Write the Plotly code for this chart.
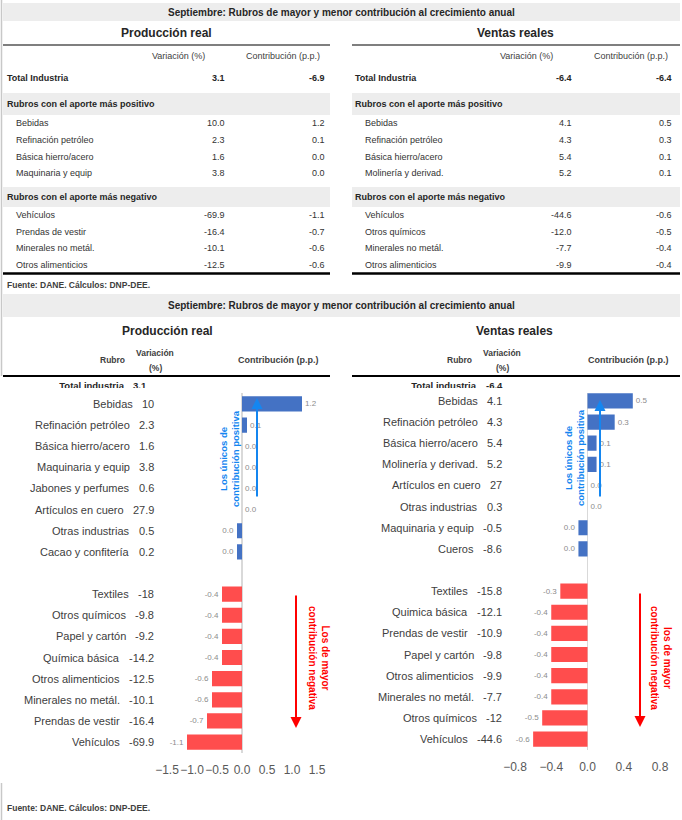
import plotly.graph_objects as go

W, H = 682, 820
FONT = "Liberation Sans"

# ---------------- DATA: top tables ----------------
title_text = "Septiembre: Rubros de mayor y menor contribución al crecimiento anual"
table_titles = ["Producción real", "Ventas reales"]
col_headers = ["Variación (%)", "Contribución (p.p.)"]

prod_total = [3.1, -6.9]
prod_pos_names = ["Bebidas", "Refinación petróleo", "Básica hierro/acero", "Maquinaria y equip"]
prod_pos_var = [10.0, 2.3, 1.6, 3.8]
prod_pos_con = [1.2, 0.1, 0.0, 0.0]
prod_neg_names = ["Vehículos", "Prendas de vestir", "Minerales no metál.", "Otros alimenticios"]
prod_neg_var = [-69.9, -16.4, -10.1, -12.5]
prod_neg_con = [-1.1, -0.7, -0.6, -0.6]

vent_total = [-6.4, -6.4]
vent_pos_names = ["Bebidas", "Refinación petróleo", "Básica hierro/acero", "Molinería y derivad."]
vent_pos_var = [4.1, 4.3, 5.4, 5.2]
vent_pos_con = [0.5, 0.3, 0.1, 0.1]
vent_neg_names = ["Vehículos", "Otros químicos", "Minerales no metál.", "Otros alimenticios"]
vent_neg_var = [-44.6, -12.0, -7.7, -9.9]
vent_neg_con = [-0.6, -0.5, -0.4, -0.4]

# ---------------- DATA: lower charts ----------------
cp_pos_names = ["Bebidas", "Refinación petróleo", "Básica hierro/acero", "Maquinaria y equip",
                "Jabones y perfumes", "Artículos en cuero", "Otras industrias", "Cacao y confitería"]
cp_pos_var = [10, 2.3, 1.6, 3.8, 0.6, 27.9, 0.5, 0.2]
cp_pos_con = [1.2, 0.1, 0.0, 0.0, 0.0, 0.0, -0.1, -0.1]
cp_pos_lbl = ["1.2", "0.1", "0.0", "0.0", "0.0", "0.0", "0.0", "0.0"]
cp_neg_names = ["Textiles", "Otros químicos", "Papel y cartón", "Química básica",
                "Otros alimenticios", "Minerales no metál.", "Prendas de vestir", "Vehículos"]
cp_neg_var = [-18, -9.8, -9.2, -14.2, -12.5, -10.1, -16.4, -69.9]
cp_neg_con = [-0.4, -0.4, -0.4, -0.4, -0.6, -0.6, -0.7, -1.1]

cv_pos_names = ["Bebidas", "Refinación petróleo", "Básica hierro/acero", "Molinería y derivad.",
                "Artículos en cuero", "Otras industrias", "Maquinaria y equip", "Cueros"]
cv_pos_var = [4.1, 4.3, 5.4, 5.2, 27, 0.3, -0.5, -8.6]
cv_pos_con = [0.5, 0.3, 0.1, 0.1, 0.0, 0.0, -0.1, -0.1]
cv_pos_lbl = ["0.5", "0.3", "0.1", "0.1", "0.0", "0.0", "0.0", "0.0"]
cv_neg_names = ["Textiles", "Quimica básica", "Prendas de vestir", "Papel y cartón",
                "Otros alimenticios", "Minerales no metál.", "Otros químicos", "Vehículos"]
cv_neg_var = [-15.8, -12.1, -10.9, -9.8, -9.9, -7.7, -12, -44.6]
cv_neg_con = [-0.3, -0.4, -0.4, -0.4, -0.4, -0.4, -0.5, -0.6]

left_ticks = [-1.5, -1.0, -0.5, 0.0, 0.5, 1.0, 1.5]
right_ticks = [-0.8, -0.4, 0.0, 0.4, 0.8]

BLUE = "#4472C4"
RED = "#FF4D4D"
ARROW_BLUE = "#1486F0"
TXT = "#262626"
BAND = "#EDEDED"

# ---------------- helpers ----------------
anns = []
shapes = []


def ann(x, y, text, size=9, color=TXT, bold=False, xanchor="left", yanchor="middle", **kw):
    d = dict(x=x / W, y=1 - y / H, xref="paper", yref="paper",
             text=f"<b>{text}</b>" if bold else text, showarrow=False,
             xanchor=xanchor, yanchor=yanchor,
             font=dict(family=FONT, size=size, color=color))
    d.update(kw)
    anns.append(d)


def rect(x0, y0, x1, y1, fill, layer="below"):
    shapes.append(dict(type="rect", xref="paper", yref="paper", x0=x0 / W, x1=x1 / W,
                       y0=1 - y0 / H, y1=1 - y1 / H, fillcolor=fill, line=dict(width=0),
                       layer=layer))


def line(x0, y0, x1, y1, color="#000000", width=1):
    shapes.append(dict(type="line", xref="paper", yref="paper", x0=x0 / W, x1=x1 / W,
                       y0=1 - y0 / H, y1=1 - y1 / H, line=dict(color=color, width=width)))


f1 = lambda v: f"{v:.1f}"

# approx. Arial glyph widths (em) to keep names clear of the value column
CW = {"-": 0.333, ".": 0.278}


def text_w(s, size):
    return sum(CW.get(ch, 0.556) for ch in s) * size


# ---------------- top tables ----------------
rect(3, 3, 680, 21, BAND)
ann(341, 12, title_text, size=10, bold=True, xanchor="center")
line(1.5, 0, 1.5, 376, "#C8C8C8", 1.5)
line(1.5, 783, 1.5, 820, "#C8C8C8", 1.5)

tables = [
    dict(x0=3, x1=330, lab=5, ind=14, vr=227, cr=327, tc=166,
         hv=207, hc=322, title=table_titles[0], total=prod_total,
         pn=prod_pos_names, pv=prod_pos_var, pc=prod_pos_con,
         nn=prod_neg_names, nv=prod_neg_var, nc=prod_neg_con),
    dict(x0=352, x1=680, lab=353, ind=363, vr=574, cr=674, tc=515,
         hv=555, hc=670, title=table_titles[1], total=vent_total,
         pn=vent_pos_names, pv=vent_pos_var, pc=vent_pos_con,
         nn=vent_neg_names, nv=vent_neg_var, nc=vent_neg_con),
]
row_pos_y = [123, 140, 157, 173]
row_neg_y = [215, 232, 248, 265]
for t in tables:
    ann(t["tc"], 33, t["title"], size=12, bold=True, xanchor="center")
    line(t["x0"], 45, t["x1"], 45, "#000000", 1.2)
    ann(t["hv"], 56, col_headers[0], size=9, xanchor="right", color="#404040")
    ann(t["hc"], 56, col_headers[1], size=9, xanchor="right", color="#404040")
    ann(t["lab"], 78, "Total Industria", size=9, bold=True)
    ann(t["vr"], 78, f1(t["total"][0]), size=9, bold=True, xanchor="right")
    ann(t["cr"], 78, f1(t["total"][1]), size=9, bold=True, xanchor="right")
    rect(t["x0"], 93, t["x1"], 115, BAND)
    ann(t["lab"], 104, "Rubros con el aporte más positivo", size=9, bold=True)
    for yy, n, v, c in zip(row_pos_y, t["pn"], t["pv"], t["pc"]):
        ann(t["ind"], yy, n, size=9, color="#333333")
        ann(t["vr"], yy, f1(v), size=9, xanchor="right", color="#333333")
        ann(t["cr"], yy, f1(c), size=9, xanchor="right", color="#333333")
    rect(t["x0"], 187, t["x1"], 207, BAND)
    ann(t["lab"], 197, "Rubros con el aporte más negativo", size=9, bold=True)
    for yy, n, v, c in zip(row_neg_y, t["nn"], t["nv"], t["nc"]):
        ann(t["ind"], yy, n, size=9, color="#333333")
        ann(t["vr"], yy, f1(v), size=9, xanchor="right", color="#333333")
        ann(t["cr"], yy, f1(c), size=9, xanchor="right", color="#333333")
    line(t["x0"], 273.5, t["x1"], 273.5, "#000000", 2.5)

ann(5, 285, "Fuente: DANE. Cálculos: DNP-DEE.", size=8.5, bold=True, color="#404040")

# ---------------- lower section header ----------------
rect(3, 294, 680, 317, BAND)
ann(341, 305, title_text, size=10, bold=True, xanchor="center")
heads = [dict(tc=167, rub=127, var=155, con=278, x0=3, x1=330),
         dict(tc=514, rub=474, var=502, con=628, x0=352, x1=680)]
for h, ttl in zip(heads, table_titles):
    ann(h["tc"], 331, ttl, size=12, bold=True, xanchor="center")
    ann(h["rub"], 360, "Rubro", size=8.5, bold=True, xanchor="right", color="#404040")
    ann(h["var"], 353, "Variación", size=8.5, bold=True, xanchor="center", color="#404040")
    ann(h["var"], 368, "(%)", size=8.5, bold=True, xanchor="center", color="#404040")
    ann(h["con"], 360, "Contribución (p.p.)", size=9, bold=True, xanchor="center", color="#404040")
    line(h["x0"], 376, h["x1"], 376, "#000000", 2)

ann(5, 808, "Fuente: DANE. Cálculos: DNP-DEE.", size=8.5, bold=True, color="#404040")

# ---------------- bar charts ----------------
fig = go.Figure()
LBL = 11


def add_chart(xa, ya, pos_names, pos_var, pos_con, pos_lbl, neg_names, neg_var, neg_con, val_x):
    ypos = list(range(len(pos_names)))
    yneg = [len(pos_names) + 1 + i for i in range(len(neg_names))]
    fig.add_trace(go.Bar(x=pos_con, y=ypos, orientation="h", marker=dict(color=BLUE, line=dict(width=0)),
                         text=pos_lbl, textposition="outside", cliponaxis=False,
                         textfont=dict(family=FONT, size=8, color="#8C8C8C"),
                         xaxis=xa, yaxis=ya, showlegend=False, hoverinfo="skip"))
    fig.add_trace(go.Bar(x=neg_con, y=yneg, orientation="h", marker=dict(color=RED, line=dict(width=0)),
                         text=[f1(v) for v in neg_con], textposition="outside", cliponaxis=False,
                         textfont=dict(family=FONT, size=8, color="#8C8C8C"),
                         xaxis=xa, yaxis=ya, showlegend=False, hoverinfo="skip"))
    for yy, n, v in zip(ypos + yneg, pos_names + neg_names, pos_var + neg_var):
        vs = f"{v:g}"
        name_x = val_x - text_w(vs, LBL) - 9
        anns.append(dict(x=name_x / W, xref="paper", y=yy, yref=ya, text=n, showarrow=False,
                         xanchor="right", yanchor="middle",
                         font=dict(family=FONT, size=LBL, color="#404040")))
        anns.append(dict(x=val_x / W, xref="paper", y=yy, yref=ya, text=vs, showarrow=False,
                         xanchor="right", yanchor="middle",
                         font=dict(family=FONT, size=LBL, color="#404040")))


add_chart("x", "y", cp_pos_names, cp_pos_var, cp_pos_con, cp_pos_lbl,
          cp_neg_names, cp_neg_var, cp_neg_con, 156)
add_chart("x2", "y2", cv_pos_names, cv_pos_var, cv_pos_con, cv_pos_lbl,
          cv_neg_names, cv_neg_var, cv_neg_con, 504)

# "Total industria" row, partially hidden below by a white band (as in the source)
fig.add_trace(go.Scatter(x=[124, 133, 476, 486], y=[13] * 4, mode="text",
                         text=["<b>Total industria</b>", f"<b>{prod_total[0]:g}</b>",
                               "<b>Total industria</b>", f"<b>{vent_total[0]:g}</b>"],
                         textposition=["middle left", "middle right", "middle left", "middle right"],
                         textfont=dict(family=FONT, size=9.5, color=TXT), cliponaxis=False,
                         xaxis="x3", yaxis="y3", showlegend=False, hoverinfo="skip"))
rect(3, 388, 680, 393, "white", layer="above")


# arrows and rotated notes
def arrow(xt, yt, xs, ys, color):
    anns.append(dict(x=xt / W, y=1 - yt / H, xref="paper", yref="paper", ax=xs - xt, ay=ys - yt,
                     text="", showarrow=True, arrowhead=2,
                     arrowsize=1.1, arrowwidth=2, arrowcolor=color, standoff=0, startstandoff=0))


arrow(257, 398, 257, 498, ARROW_BLUE)
arrow(600, 400, 600, 498, ARROW_BLUE)
arrow(296, 728, 296, 594, "#FF0000")
arrow(640, 727, 640, 592, "#FF0000")

ann(229, 459, "Los únicos de<br>contribución positiva", size=9.5, bold=True, color=ARROW_BLUE,
    xanchor="center", textangle=-90)
ann(574, 458, "Los únicos de<br>contribución positiva", size=9.5, bold=True, color=ARROW_BLUE,
    xanchor="center", textangle=-90)
ann(319, 658, "Los de mayor<br>contribución negativa", size=10, bold=True, color="#FF0000",
    xanchor="center", textangle=90)
ann(661, 658, "los de mayor<br>contribución negativa", size=10, bold=True, color="#FF0000",
    xanchor="center", textangle=90)

axis_common = dict(showgrid=False, zeroline=True, zerolinecolor="#D9D9D9", zerolinewidth=1.5,
                   showline=False, ticks="", tickformat=".1f", tickangle=0, automargin=False,
                   tickfont=dict(family=FONT, size=12, color="#595959"), ticklabelstandoff=8)
hidden = dict(visible=False, automargin=False)

fig.update_layout(
    template="none", autosize=False,
    width=W, height=H, margin=dict(l=0, r=0, t=0, b=0, pad=0, autoexpand=False),
    paper_bgcolor="white", plot_bgcolor="rgba(0,0,0,0)",
    barmode="overlay", bargap=0.28, showlegend=False,
    xaxis=dict(domain=[167 / W, 317 / W], anchor="y", range=[-1.5, 1.5], tickvals=left_ticks, **axis_common),
    yaxis=dict(domain=[1 - 752.6 / H, 1 - 393.4 / H], anchor="x", range=[16.5, -0.5], **hidden),
    xaxis2=dict(domain=[515 / W, 660 / W], anchor="y2", range=[-0.8, 0.8], tickvals=right_ticks, **axis_common),
    yaxis2=dict(domain=[1 - 749.6 / H, 1 - 390.4 / H], anchor="x2", range=[16.5, -0.5], **hidden),
    xaxis3=dict(domain=[0, 1], anchor="y3", range=[0, W], **hidden),
    yaxis3=dict(domain=[1 - 400 / H, 1 - 376 / H], anchor="x3", range=[0, 24], **hidden),
    annotations=anns, shapes=shapes,
)

fig.write_html("out.html", config={"displayModeBar": False, "staticPlot": True},
               post_script="document.body.style.margin='0px';document.body.style.overflow='hidden';")
